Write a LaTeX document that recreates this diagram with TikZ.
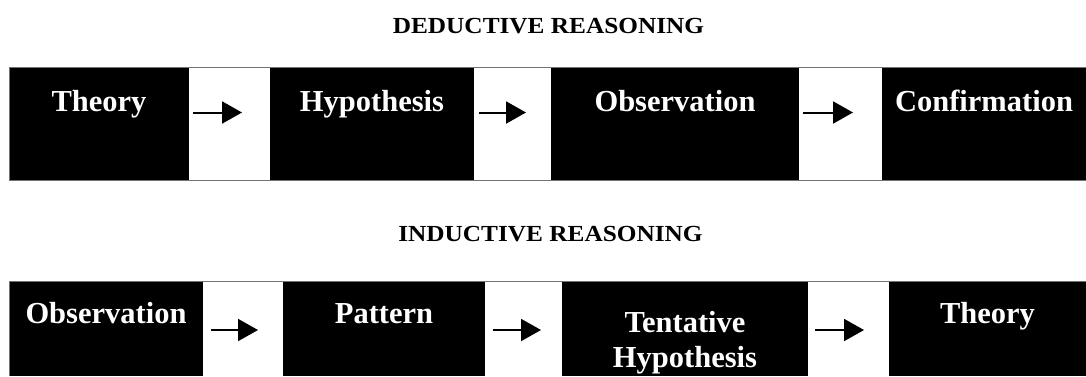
\documentclass[tikz,border=0pt]{standalone}
\usepackage{fontspec}
\setmainfont{Liberation Serif}
\usetikzlibrary{arrows.meta}
\tikzset{
  blk/.style={fill=black, draw=none, inner sep=0pt, outer sep=0pt, anchor=north west},
  band/.style={draw=black!55, line width=0.8pt},
  lbl/.style={text=white, font=\bfseries\fontsize{30.5}{35}\selectfont, anchor=base, inner sep=0pt},
  ttl/.style={text=black, font=\bfseries\fontsize{23}{26}\selectfont, anchor=base, inner sep=0pt},
  arr/.style={line width=2pt, -{Triangle[length=20pt,width=22pt]}}
}
\begin{document}
\begin{tikzpicture}[x=1pt,y=-1pt]
\useasboundingbox (0,0) rectangle (1086,376);
\fill[white] (0,0) rectangle (1086,376);
% titles
\node[ttl] (tdeduct) at (548.5,33) {\scalebox{1.1}[1]{DEDUCTIVE REASONING}};
\node[ttl] (tinduct) at (550.5,241) {\scalebox{1.1}[1]{INDUCTIVE REASONING}};
% top row boxes
\node[blk, minimum width=180pt, minimum height=113pt] (t1) at (9,67) {};
\node[blk, minimum width=204pt, minimum height=113pt] (t2) at (270,67) {};
\node[blk, minimum width=248pt, minimum height=113pt] (t3) at (551,67) {};
\node[blk, minimum width=204pt, minimum height=113pt] (t4) at (882,67) {};
% bottom row boxes
\node[blk, minimum width=194pt, minimum height=95pt] (b1) at (9,281) {};
\node[blk, minimum width=202pt, minimum height=95pt] (b2) at (283,281) {};
\node[blk, minimum width=246pt, minimum height=95pt] (b3) at (562,281) {};
\node[blk, minimum width=197pt, minimum height=95pt] (b4) at (889,281) {};
% thin band outlines
\draw[band] (t1.north west) rectangle (t4.south east);
\draw[band] (b1.north west) -- (b4.north east);
\draw[band] (b1.north west) -- (b1.south west);
% top labels
\node[lbl] (lt1) at ([yshift=-44pt]t1.north) {Theory};
\node[lbl] (lt2) at ([yshift=-44pt]t2.north) {Hypothesis};
\node[lbl] (lt3) at ([yshift=-44pt]t3.north) {Observation};
\node[lbl] (lt4) at ([yshift=-44pt]t4.north) {Confirmation};
% bottom labels
\node[lbl] (lb1) at ([yshift=-42pt]b1.north) {Observation};
\node[lbl] (lb2) at ([yshift=-42pt]b2.north) {Pattern};
\node[lbl] (lb3) at ([yshift=-51pt]b3.north) {\begin{tabular}[t]{@{}c@{}}Tentative\\Hypothesis\end{tabular}};
\node[lbl] (lb4) at ([yshift=-42pt]b4.north) {Theory};
% top arrows
\draw[arr, shorten <=4pt, shorten >=28pt] ([yshift=11pt]t1.east) -- ([yshift=11pt]t2.west);
\draw[arr, shorten <=5pt, shorten >=25pt] ([yshift=11pt]t2.east) -- ([yshift=11pt]t3.west);
\draw[arr, shorten <=4pt, shorten >=29pt] ([yshift=11pt]t3.east) -- ([yshift=11pt]t4.west);
% bottom arrows
\draw[arr, shorten <=8pt, shorten >=25pt] ([yshift=-1.5pt]b1.east) -- ([yshift=-1.5pt]b2.west);
\draw[arr, shorten <=8pt, shorten >=21pt] ([yshift=-1.5pt]b2.east) -- ([yshift=-1.5pt]b3.west);
\draw[arr, shorten <=7pt, shorten >=25pt] ([yshift=-1.5pt]b3.east) -- ([yshift=-1.5pt]b4.west);
\end{tikzpicture}
\end{document}
